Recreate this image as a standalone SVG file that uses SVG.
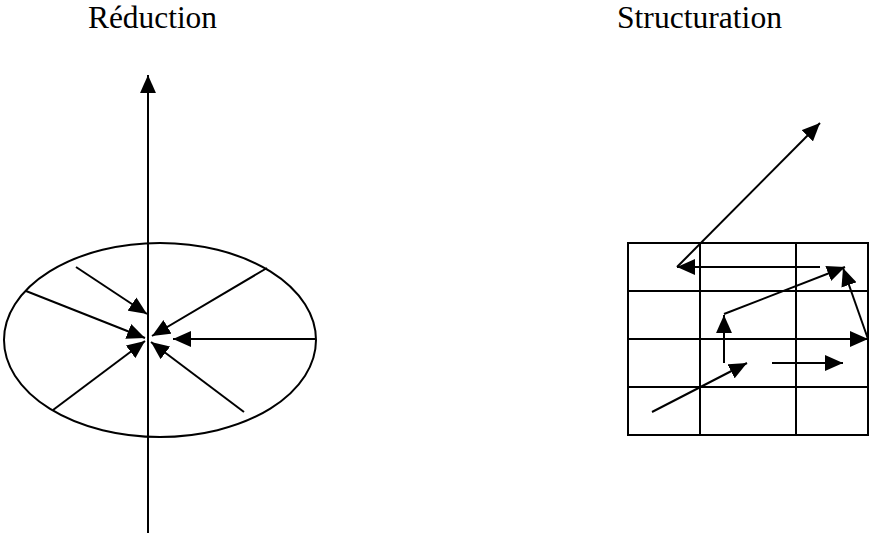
<svg xmlns="http://www.w3.org/2000/svg" width="871" height="535" viewBox="0 0 871 535">
<style>
.t{font-family:"Liberation Serif","Times New Roman",serif;font-size:31px;fill:#000}
.ln{stroke:#000;stroke-width:2;fill:none}
.ar{stroke:#000;stroke-width:2;fill:none;marker-end:url(#ah)}
</style>
<defs>
<marker id="ah" markerUnits="userSpaceOnUse" markerWidth="18" markerHeight="16" viewBox="0 0 17 15" refX="17" refY="7.5" orient="auto">
<path d="M0,0 L17,7.5 L0,15 z" fill="#000"/>
</marker>
</defs>
<rect width="871" height="535" fill="#fff"/>
<g id="label-reduction"><text class="t" x="88" y="28" textLength="129" lengthAdjust="spacingAndGlyphs">Réduction</text></g>
<g id="label-structuration"><text class="t" x="617" y="28" textLength="165" lengthAdjust="spacingAndGlyphs">Structuration</text></g>
<g id="ellipse"><ellipse class="ln" cx="160" cy="340" rx="156" ry="97"/></g>
<g id="grid">
<rect class="ln" x="628" y="243" width="240" height="192"/>
<line class="ln" x1="700" y1="243" x2="700" y2="435"/>
<line class="ln" x1="796" y1="243" x2="796" y2="435"/>
<line class="ln" x1="628" y1="291" x2="868" y2="291"/>
<line class="ln" x1="628" y1="339" x2="868" y2="339"/>
<line class="ln" x1="628" y1="387" x2="868" y2="387"/>
</g>
<g id="connectors">
<line class="ar" x1="148" y1="533" x2="148" y2="75"/>
<line class="ar" x1="76" y1="267" x2="147" y2="314"/>
<line class="ar" x1="26" y1="291" x2="145" y2="338"/>
<line class="ar" x1="267" y1="268" x2="152" y2="336"/>
<line class="ar" x1="316" y1="339" x2="173" y2="339"/>
<line class="ar" x1="53" y1="410" x2="145" y2="341"/>
<line class="ar" x1="244" y1="412" x2="151" y2="342"/>
<line class="ar" x1="677" y1="267" x2="820" y2="123"/>
<line class="ar" x1="820" y1="267" x2="677" y2="267"/>
<line class="ar" x1="724" y1="314" x2="845" y2="267"/>
<line class="ar" x1="868" y1="339" x2="843" y2="268"/>
<line class="ar" x1="796" y1="339" x2="868" y2="339"/>
<line class="ar" x1="724" y1="363" x2="724" y2="315"/>
<line class="ar" x1="652" y1="412" x2="747" y2="363"/>
<line class="ar" x1="772" y1="363" x2="843" y2="363"/>
</g>
</svg>
